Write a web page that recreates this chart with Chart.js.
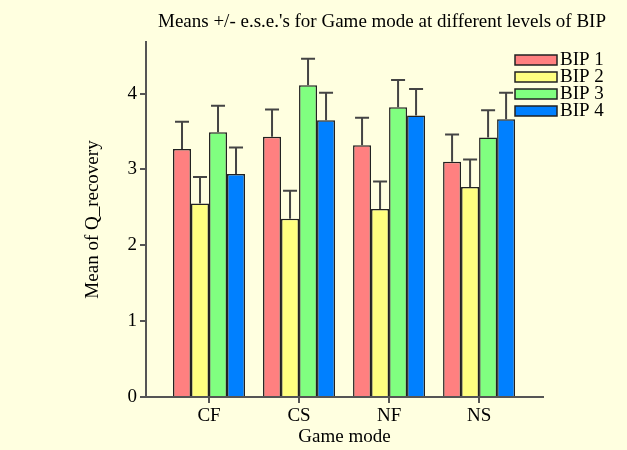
<!DOCTYPE html>
<html>
<head>
<meta charset="utf-8">
<script src="https://cdn.jsdelivr.net/npm/chart.js@4.4.1/dist/chart.umd.min.js"></script>
<style>
  body { margin: 0; background: #ffffe0; }
  #wrap { width: 627px; height: 450px; }
</style>
</head>
<body>
<div id="wrap"><canvas id="meansChart"></canvas></div>
<script>
const gameModes = ['CF', 'CS', 'NF', 'NS'];
const bipLabels = ['BIP 1', 'BIP 2', 'BIP 3', 'BIP 4'];
const bip1Means = [3.27, 3.43, 3.32, 3.10];
const bip2Means = [2.55, 2.35, 2.48, 2.77];
const bip3Means = [3.49, 4.11, 3.82, 3.42];
const bip4Means = [2.94, 3.65, 3.71, 3.66];
const bip1Se = [0.36, 0.36, 0.36, 0.36];
const bip2Se = [0.35, 0.37, 0.36, 0.36];
const bip3Se = [0.35, 0.35, 0.36, 0.36];
const bip4Se = [0.35, 0.36, 0.35, 0.35];
const yTicks = [0, 1, 2, 3, 4];

const barColors = ['#ff8080', '#ffff80', '#80ff80', '#0080ff'];
const means = [bip1Means, bip2Means, bip3Means, bip4Means];
const errors = [bip1Se, bip2Se, bip3Se, bip4Se];

Chart.defaults.font.family = "'Liberation Serif', 'Times New Roman', serif";
Chart.defaults.font.size = 19;
Chart.defaults.color = '#000';

// background, title, legend and upper error bars
const extras = {
  id: 'extras',
  beforeDraw(chart) {
    const ctx = chart.ctx;
    ctx.save();
    ctx.fillStyle = '#ffffe0';
    ctx.fillRect(0, 0, chart.width, chart.height);
    ctx.restore();
  },
  afterDatasetsDraw(chart) {
    const ctx = chart.ctx;
    const yScale = chart.scales.y;
    ctx.save();
    ctx.strokeStyle = '#444';
    ctx.lineWidth = 2;
    chart.data.datasets.forEach((ds, di) => {
      chart.getDatasetMeta(di).data.forEach((bar, i) => {
        const top = yScale.getPixelForValue(ds.data[i].y + ds.se[i]);
        ctx.beginPath();
        ctx.moveTo(bar.x, bar.y);
        ctx.lineTo(bar.x, top);
        ctx.moveTo(bar.x - 7, top);
        ctx.lineTo(bar.x + 7, top);
        ctx.stroke();
      });
    });
    ctx.restore();
  },
  afterDraw(chart) {
    const ctx = chart.ctx;
    const area = chart.chartArea;
    ctx.save();
    ctx.fillStyle = '#000';
    ctx.font = "19px 'Liberation Serif', serif";
    ctx.textAlign = 'center';
    ctx.textBaseline = 'middle';
    ctx.fillText("Means +/- e.s.e.'s for Game mode at different levels of BIP", 382, 22);

    ctx.textAlign = 'left';
    chart.data.datasets.forEach((ds, i) => {
      const bx = area.right - 28;
      const by = 55 + i * 17;
      ctx.fillStyle = ds.backgroundColor;
      ctx.fillRect(bx, by, 42, 10);
      ctx.strokeStyle = '#222';
      ctx.lineWidth = 1.5;
      ctx.strokeRect(bx, by, 42, 10);
      ctx.fillStyle = '#000';
      ctx.fillText(ds.label, bx + 45, by + 5);
    });
    ctx.restore();
  }
};

new Chart(document.getElementById('meansChart'), {
  type: 'bar',
  data: {
    datasets: bipLabels.map((label, i) => ({
      label: label,
      data: means[i].map((v, j) => ({ x: j + 1, y: v })),
      se: errors[i],
      backgroundColor: barColors[i],
      borderColor: '#222',
      borderWidth: 1.5,
      categoryPercentage: 0.8,
      barPercentage: 1.0,
    })),
  },
  options: {
    responsive: true,
    maintainAspectRatio: false,
    animation: false,
    layout: { padding: { left: 78, right: 84, top: 42, bottom: 0 } },
    plugins: {
      legend: { display: false },
      tooltip: { enabled: false },
    },
    scales: {
      x: {
        type: 'linear',
        offset: false,
        min: 0.3,
        max: 4.71,
        afterBuildTicks: (scale) => {
          scale.ticks = gameModes.map((_, i) => ({ value: i + 1 }));
        },
        afterFit: (scale) => { scale.height = 53; },
        ticks: {
          padding: 2,
          callback: (v) => gameModes[v - 1],
        },
        grid: { offset: false, drawOnChartArea: false, drawTicks: true, tickLength: 6, color: '#555', lineWidth: 2 },
        border: { display: true, color: '#555', width: 2 },
        title: { display: true, text: 'Game mode', padding: { top: 2, bottom: 2 } },
      },
      y: {
        min: 0,
        max: 4.68,
        afterBuildTicks: (scale) => {
          scale.ticks = yTicks.map((v) => ({ value: v }));
        },
        afterFit: (scale) => { scale.width = 68; },
        ticks: { padding: 3 },
        grid: { drawOnChartArea: false, drawTicks: true, tickLength: 6, color: '#555', lineWidth: 2 },
        border: { display: true, color: '#555', width: 2 },
        title: { display: true, text: 'Mean of Q_recovery', padding: 4 },
      },
    },
  },
  plugins: [extras],
});
</script>
</body>
</html>
